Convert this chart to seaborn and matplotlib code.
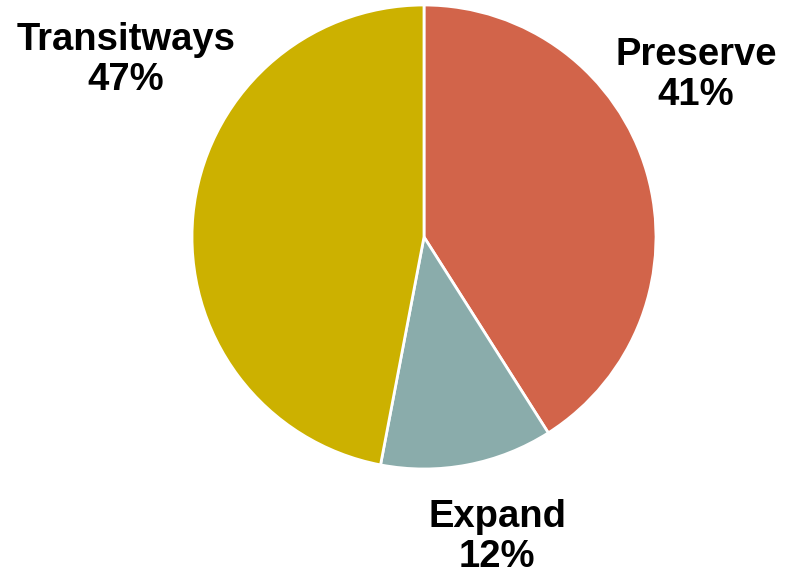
import matplotlib
matplotlib.use("Agg")
import matplotlib.pyplot as plt
import seaborn as sns

sns.set_style("white")
plt.rcParams['font.family'] = ['Liberation Sans', 'DejaVu Sans']

# data
categories = ["Preserve", "Expand", "Transitways"]
shares = [41, 12, 47]
colors = ["#D2644A", "#8AACAB", "#CCB100"]
# label anchor positions (data units, pie radius = 1)
label_pos = [(1.172, 0.698), (0.315, -1.293), (-1.284, 0.763)]

fig = plt.figure(figsize=(7.92, 5.75), dpi=100)
ax = fig.add_axes([192 / 792, (575 - 469) / 575, 464 / 792, 464 / 575])

ax.pie(shares, colors=sns.color_palette(colors), startangle=90, counterclock=False,
       radius=1, wedgeprops=dict(edgecolor="white", linewidth=2))

for cat, val, (x, y) in zip(categories, shares, label_pos):
    ax.text(x, y, f"{cat}\n{val}%", ha="center", va="center", fontsize=27.5,
            fontweight="bold", linespacing=1.15, color="black")

ax.set_xlim(-1, 1)
ax.set_ylim(-1, 1)
ax.set_aspect("equal")
ax.axis("off")

plt.savefig("out.png", dpi=100)
plt.close()
